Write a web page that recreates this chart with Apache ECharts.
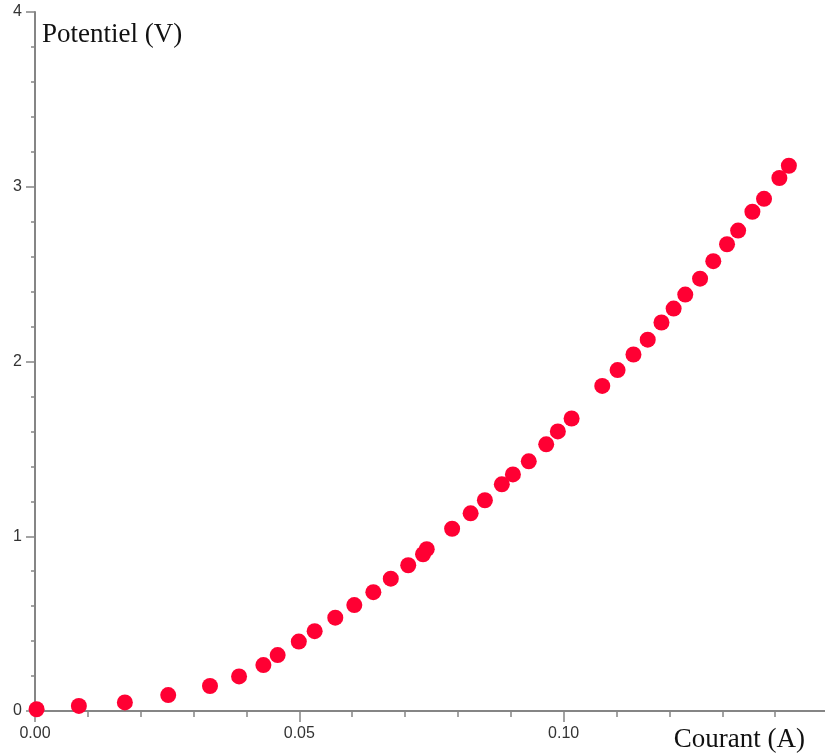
<!DOCTYPE html>
<html>
<head>
<meta charset="utf-8">
<script src="https://cdn.jsdelivr.net/npm/echarts@6/dist/echarts.min.js"></script>
<style>
html,body{margin:0;padding:0;background:#fff;}
#chart{width:825px;height:755px;}
</style>
</head>
<body>
<div id="chart"></div>
<script>
// Courant (A)
var courant = [0.0003, 0.0083, 0.0170, 0.0252, 0.0331, 0.0386, 0.0432, 0.0459, 0.0499, 0.0529,
  0.0568, 0.0604, 0.0640, 0.0673, 0.0706, 0.0734, 0.0741, 0.0789, 0.0824, 0.0851,
  0.0883, 0.0904, 0.0934, 0.0967, 0.0989, 0.1015, 0.1073, 0.1102, 0.1132, 0.1159,
  0.1185, 0.1208, 0.1230, 0.1258, 0.1283, 0.1309, 0.1330, 0.1357, 0.1379, 0.1408, 0.1426];
// Potentiel (V)
var potentiel = [0.01, 0.029, 0.049, 0.091, 0.143, 0.198, 0.263, 0.32, 0.397, 0.457,
  0.534, 0.606, 0.68, 0.757, 0.834, 0.897, 0.926, 1.043, 1.131, 1.206,
  1.297, 1.354, 1.429, 1.526, 1.60, 1.674, 1.86, 1.951, 2.04, 2.125,
  2.223, 2.303, 2.383, 2.474, 2.574, 2.671, 2.749, 2.857, 2.931, 3.05, 3.12];
var xTickLabels = ['0.00', '0.05', '0.10'];
var yTickLabels = ['0', '1', '2', '3', '4'];

var points = courant.map(function (c, i) { return [c, potentiel[i]]; });

var chart = echarts.init(document.getElementById('chart'));
var axisColor = '#858585';
var labelColor = '#333333';
chart.setOption({
  animation: false,
  backgroundColor: '#ffffff',
  grid: { left: 35, top: 12, width: 793, height: 699, containLabel: false, outerBoundsMode: 'none' },
  xAxis: {
    type: 'value', min: 0, max: 0.15, interval: 0.05,
    name: 'Courant (A)', nameLocation: 'end', nameGap: -23,
    nameTextStyle: { fontFamily: 'Liberation Serif', fontSize: 27, color: '#111', align: 'right', verticalAlign: 'top', padding: [15, 0, 0, 0] },
    axisLine: { show: true, onZero: false, lineStyle: { color: axisColor, width: 2 } },
    axisTick: { show: true, length: 11, lineStyle: { color: axisColor, width: 1.5 } },
    minorTick: { show: true, splitNumber: 5, length: 6, lineStyle: { color: axisColor, width: 1.5 } },
    splitLine: { show: false },
    axisLabel: {
      margin: 15, fontFamily: 'Liberation Sans', fontSize: 16, color: labelColor,
      formatter: function (v) { var i = Math.round(v / 0.05); return i < xTickLabels.length ? xTickLabels[i] : ''; }
    }
  },
  yAxis: {
    type: 'value', min: 0, max: 4, interval: 1,
    name: 'Potentiel (V)', nameLocation: 'end', nameGap: -23,
    nameTextStyle: { fontFamily: 'Liberation Serif', fontSize: 27, color: '#111', align: 'left', verticalAlign: 'middle', padding: [0, 0, 0, 7] },
    axisLine: { show: true, onZero: false, lineStyle: { color: axisColor, width: 2 } },
    axisTick: { show: true, length: 9, lineStyle: { color: axisColor, width: 1.5 } },
    minorTick: { show: true, splitNumber: 5, length: 4, lineStyle: { color: axisColor, width: 1.5 } },
    splitLine: { show: false },
    axisLabel: {
      margin: 13, fontFamily: 'Liberation Sans', fontSize: 16, color: labelColor,
      formatter: function (v) { return yTickLabels[Math.round(v)]; }
    }
  },
  series: [{
    type: 'scatter',
    data: points,
    symbol: 'circle',
    symbolSize: 16,
    itemStyle: { color: '#ff0033', opacity: 1 },
    clip: false
  }]
});
</script>
</body>
</html>
